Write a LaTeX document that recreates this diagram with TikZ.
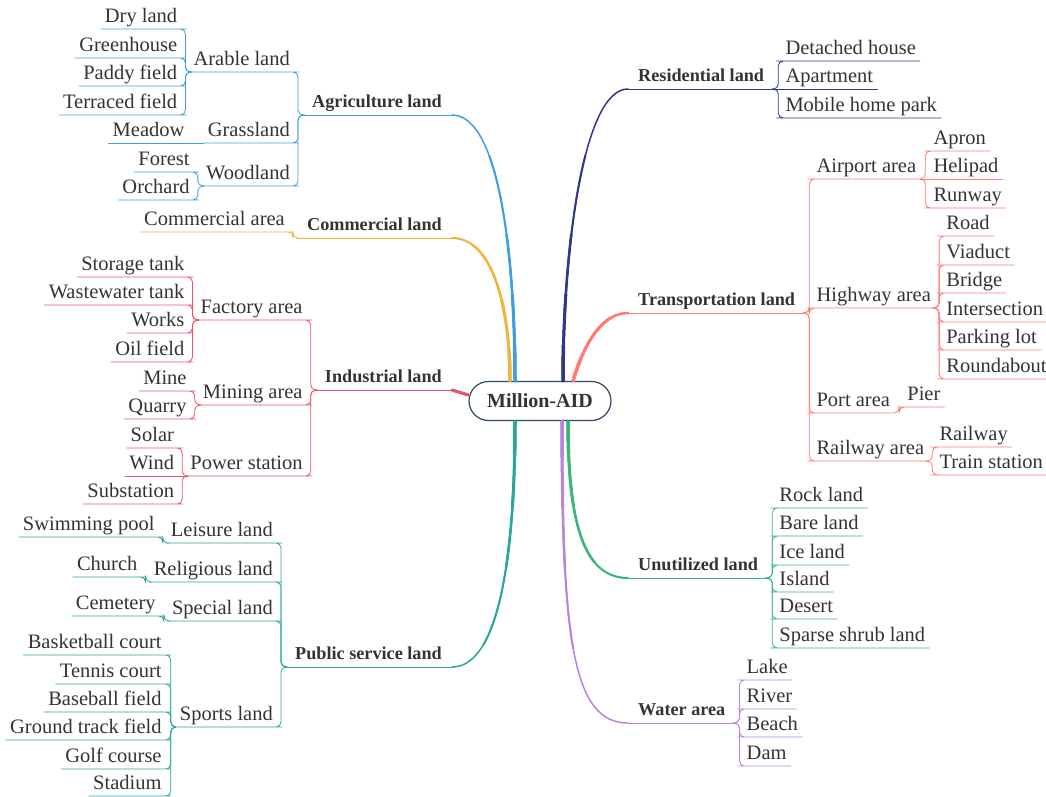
\documentclass[tikz,border=0pt]{standalone}
\usepackage{fontspec}
\setmainfont{Liberation Serif}
\definecolor{txt}{HTML}{333333}
\definecolor{rootc}{HTML}{2E4A66}
\definecolor{agc}{HTML}{3D9EE2}
\definecolor{coc}{HTML}{EDB63F}
\definecolor{inc}{HTML}{EA5468}
\definecolor{puc}{HTML}{2AA79B}
\definecolor{rec}{HTML}{2F3789}
\definecolor{trc}{HTML}{FF7B73}
\definecolor{unc}{HTML}{3CB67A}
\definecolor{wac}{HTML}{B585E0}

\begin{document}
\begin{tikzpicture}[x=1pt,y=-1pt,line cap=round,
  root node/.style={rectangle,rounded corners=19.5pt,draw=rootc,line width=1.2pt,fill=white,
    minimum width=142pt,minimum height=39pt,text=txt,font=\fontsize{20}{24}\selectfont\bfseries},
  main node/.style={inner xsep=10pt,inner ysep=2.5pt,text height=12pt,text depth=5pt,
    text=txt,font=\fontsize{18.2}{22}\selectfont\bfseries},
  sub node/.style={inner xsep=4pt,inner ysep=1.5pt,text height=14pt,text depth=5pt,
    text=txt,font=\fontsize{20.5}{24}\selectfont},
  left node/.style={sub node,anchor=south east,xshift=-8pt},
  right node/.style={sub node,anchor=south west,xshift=7pt},
  link/.style={line width=0.8pt,rounded corners=5pt},
  flat link/.style={line width=0.8pt}]
\useasboundingbox (0,0) rectangle (1046,797);

\node[root node] (root) at (540,401) {Million-AID};

% left side
\node[main node,anchor=south east] (agri) at (452,115) {Agriculture land};
\node[left node] (arable) at (agri.south west |- 0,72) {Arable land};
\node[left node] (grass) at (agri.south west |- 0,143) {Grassland};
\node[left node] (wood) at (agri.south west |- 0,186) {Woodland};
\node[left node] (dry) at (arable.south west |- 0,29) {Dry land};
\node[left node] (greenh) at (arable.south west |- 0,58) {Greenhouse};
\node[left node] (paddy) at (arable.south west |- 0,86) {Paddy field};
\node[left node] (terraced) at (arable.south west |- 0,115) {Terraced field};
\node[left node,xshift=-7pt] (meadow) at (grass.south west |- 0,143) {Meadow};
\node[left node] (forest) at (wood.south west |- 0,172) {Forest};
\node[left node] (orchard) at (wood.south west |- 0,200) {Orchard};

\node[main node,anchor=south east] (comm) at (452,238) {Commercial land};
\node[left node] (comarea) at (comm.south west |- 0,232) {Commercial area};

\node[main node,anchor=south east] (ind) at (452,390) {Industrial land};
\node[left node] (factory) at (ind.south west |- 0,320) {Factory area};
\node[left node] (mining) at (ind.south west |- 0,405) {Mining area};
\node[left node] (power) at (ind.south west |- 0,476) {Power station};
\node[left node] (storage) at (factory.south west |- 0,277) {Storage tank};
\node[left node] (wastew) at (factory.south west |- 0,305) {Wastewater tank};
\node[left node] (works) at (factory.south west |- 0,333) {Works};
\node[left node] (oilf) at (factory.south west |- 0,362) {Oil field};
\node[left node] (mine) at (mining.south west |- 0,391) {Mine};
\node[left node] (quarry) at (mining.south west |- 0,419) {Quarry};
\node[left node] (solar) at (power.south west |- 0,448) {Solar};
\node[left node] (wind) at (power.south west |- 0,476) {Wind};
\node[left node] (substn) at (power.south west |- 0,504) {Substation};

\node[main node,anchor=south east] (pub) at (452,667) {Public service land};
\node[left node] (leisure) at (pub.south west |- 0,543) {Leisure land};
\node[left node] (relig) at (pub.south west |- 0,582) {Religious land};
\node[left node] (special) at (pub.south west |- 0,621) {Special land};
\node[left node] (sports) at (pub.south west |- 0,727) {Sports land};
\node[left node] (swim) at (leisure.south west |- 0,537) {Swimming pool};
\node[left node] (church) at (relig.south west |- 0,577) {Church};
\node[left node] (cemet) at (special.south west |- 0,616) {Cemetery};
\node[left node,xshift=-2pt] (basket) at (sports.south west |- 0,655) {Basketball court};
\node[left node,xshift=-2pt] (tennis) at (sports.south west |- 0,684) {Tennis court};
\node[left node,xshift=-2pt] (baseb) at (sports.south west |- 0,712) {Baseball field};
\node[left node,xshift=-2pt] (gtrack) at (sports.south west |- 0,740) {Ground track field};
\node[left node,xshift=-2pt] (golf) at (sports.south west |- 0,769) {Golf course};
\node[left node,xshift=-2pt] (stadium) at (sports.south west |- 0,796) {Stadium};

% right side
\node[main node,anchor=south west] (res) at (628,89) {Residential land};
\node[right node] (detach) at (res.south east |- 0,61) {Detached house};
\node[right node] (apart) at (res.south east |- 0,89) {Apartment};
\node[right node] (mobile) at (res.south east |- 0,118) {Mobile home park};

\node[main node,anchor=south west] (trans) at (628,313) {Transportation land};
\node[right node] (airport) at (trans.south east |- 0,179) {Airport area};
\node[right node] (highway) at (trans.south east |- 0,308) {Highway area};
\node[right node] (port) at (trans.south east |- 0,413) {Port area};
\node[right node] (railarea) at (trans.south east |- 0,461) {Railway area};
\node[right node,xshift=2pt] (apron) at (airport.south east |- 0,151) {Apron};
\node[right node,xshift=2pt] (heli) at (airport.south east |- 0,179) {Helipad};
\node[right node,xshift=2pt] (runway) at (airport.south east |- 0,208) {Runway};
\node[right node] (road) at (highway.south east |- 0,236) {Road};
\node[right node] (viaduct) at (highway.south east |- 0,265) {Viaduct};
\node[right node] (bridge) at (highway.south east |- 0,293) {Bridge};
\node[right node] (inters) at (highway.south east |- 0,322) {Intersection};
\node[right node] (parking) at (highway.south east |- 0,350) {Parking lot};
\node[right node] (roundab) at (highway.south east |- 0,379) {Roundabout};
\node[right node,xshift=2pt] (pier) at (port.south east |- 0,407) {Pier};
\node[right node] (railway) at (railarea.south east |- 0,447) {Railway};
\node[right node] (trainst) at (railarea.south east |- 0,475) {Train station};

\node[main node,anchor=south west] (unut) at (628,578) {Unutilized land};
\node[right node] (rock) at (unut.south east |- 0,508) {Rock land};
\node[right node] (bare) at (unut.south east |- 0,536) {Bare land};
\node[right node] (ice) at (unut.south east |- 0,565) {Ice land};
\node[right node] (island) at (unut.south east |- 0,592) {Island};
\node[right node] (desert) at (unut.south east |- 0,619) {Desert};
\node[right node] (sparse) at (unut.south east |- 0,648) {Sparse shrub land};

\node[main node,anchor=south west] (water) at (628,723) {Water area};
\node[right node] (lake) at (water.south east |- 0,680) {Lake};
\node[right node] (river) at (water.south east |- 0,709) {River};
\node[right node] (beach) at (water.south east |- 0,737) {Beach};
\node[right node] (dam) at (water.south east |- 0,766) {Dam};

% trunks, thicker near the root
\foreach \r/\w in {500/1.5,250/2.0,170/2.5,110/3.0,60/3.5} {
  \begin{scope}
    \clip (root) circle (\r);
    \draw[line width=\w pt,agc] (agri.south east) .. controls +(50,0) and +(0,-110) .. ([xshift=-25pt]root.north);
    \draw[line width=\w pt,coc] (comm.south east) .. controls +(42,0) and +(0,-70) .. ([xshift=-30pt]root.north);
    \draw[line width=\w pt,inc] (ind.south east) -- ([yshift=6pt]root.west);
    \draw[line width=\w pt,puc] (pub.south east) .. controls +(50,0) and +(0,120) .. ([xshift=-25pt]root.south);
    \draw[line width=\w pt,rec] ([xshift=23pt]root.north) .. controls +(0,-130) and +(-45,0) .. (res.south west);
    \draw[line width=\w pt,trc] ([xshift=33pt]root.north) .. controls +(12,-40) and +(-25,0) .. (trans.south west);
    \draw[line width=\w pt,unc] ([xshift=28pt]root.south) .. controls +(0,100) and +(-45,0) .. (unut.south west);
    \draw[line width=\w pt,wac] ([xshift=22pt]root.south) .. controls +(0,220) and +(-55,0) .. (water.south west);
  \end{scope}
}

% agriculture
\draw[flat link,agc] (agri.south east) -- (agri.south west);
\foreach \n in {arable,grass,wood}
  \draw[link,agc] (agri.south west) -- ++(-4,0) |- (\n.south east) -- (\n.south west);
\foreach \n in {dry,greenh,paddy,terraced}
  \draw[link,agc] (arable.south west) -- ++(-4,0) |- (\n.south east) -- (\n.south west);
\draw[flat link,agc] (grass.south west) -- (meadow.south west);
\foreach \n in {forest,orchard}
  \draw[link,agc] (wood.south west) -- ++(-4,0) |- (\n.south east) -- (\n.south west);

% commercial
\draw[flat link,coc] (comm.south east) -- (comm.south west);
\draw[link,coc] (comm.south west) -- ++(-4,0) |- (comarea.south east) -- (comarea.south west);

% industrial
\draw[flat link,inc] (ind.south east) -- (ind.south west);
\foreach \n in {factory,mining,power}
  \draw[link,inc] (ind.south west) -- ++(-4,0) |- (\n.south east) -- (\n.south west);
\foreach \n in {storage,wastew,works,oilf}
  \draw[link,inc] (factory.south west) -- ++(-4,0) |- (\n.south east) -- (\n.south west);
\foreach \n in {mine,quarry}
  \draw[link,inc] (mining.south west) -- ++(-4,0) |- (\n.south east) -- (\n.south west);
\foreach \n in {solar,substn}
  \draw[link,inc] (power.south west) -- ++(-4,0) |- (\n.south east) -- (\n.south west);
\draw[flat link,inc] (power.south west) -- (wind.south west);

% public service
\draw[flat link,puc] (pub.south east) -- (pub.south west);
\foreach \n in {leisure,relig,special,sports}
  \draw[link,puc] (pub.south west) -- ++(-4,0) |- (\n.south east) -- (\n.south west);
\draw[link,puc] (leisure.south west) -- ++(-4,0) |- (swim.south east) -- (swim.south west);
\draw[link,puc] (relig.south west) -- ++(-4,0) |- (church.south east) -- (church.south west);
\draw[link,puc] (special.south west) -- ++(-4,0) |- (cemet.south east) -- (cemet.south west);
\foreach \n in {basket,tennis,baseb,gtrack,golf,stadium}
  \draw[link,puc] (sports.south west) -- ++(-5,0) |- (\n.south east) -- (\n.south west);

% residential
\draw[flat link,rec] (res.south west) -- (res.south east);
\foreach \n in {detach,mobile}
  \draw[link,rec] (res.south east) -- ++(4,0) |- (\n.south west) -- (\n.south east);
\draw[flat link,rec] (res.south east) -- (apart.south east);

% transportation
\draw[flat link,trc] (trans.south west) -- (trans.south east);
\foreach \n in {airport,highway,port,railarea}
  \draw[link,trc] (trans.south east) -- ++(4,0) |- (\n.south west) -- (\n.south east);
\foreach \n in {apron,runway}
  \draw[link,trc] (airport.south east) -- ++(5,0) |- (\n.south west) -- (\n.south east);
\draw[flat link,trc] (airport.south east) -- (heli.south east);
\foreach \n in {road,viaduct,bridge,inters,parking,roundab}
  \draw[link,trc] (highway.south east) -- ++(4,0) |- (\n.south west) -- (\n.south east);
\draw[link,trc] (port.south east) -- ++(5,0) |- (pier.south west) -- (pier.south east);
\foreach \n in {railway,trainst}
  \draw[link,trc] (railarea.south east) -- ++(4,0) |- (\n.south west) -- (\n.south east);

% unutilized
\draw[flat link,unc] (unut.south west) -- (unut.south east);
\foreach \n in {rock,bare,ice,island,desert,sparse}
  \draw[link,unc] (unut.south east) -- ++(4,0) |- (\n.south west) -- (\n.south east);

% water
\draw[flat link,wac] (water.south west) -- (water.south east);
\foreach \n in {lake,river,beach,dam}
  \draw[link,wac] (water.south east) -- ++(4,0) |- (\n.south west) -- (\n.south east);
\end{tikzpicture}
\end{document}
